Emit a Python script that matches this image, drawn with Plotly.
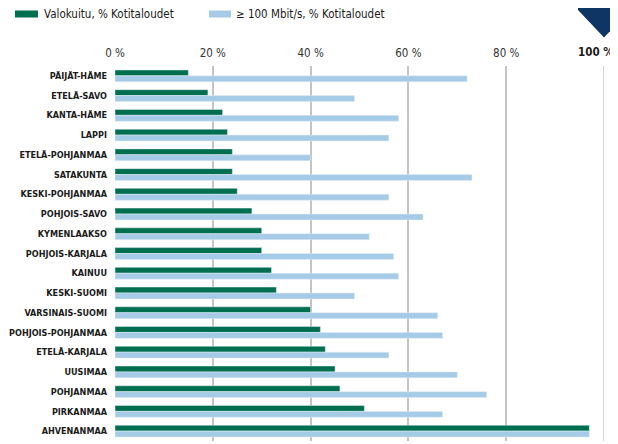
import plotly.graph_objects as go

regions = ["PÄIJÄT-HÄME", "ETELÄ-SAVO", "KANTA-HÄME", "LAPPI", "ETELÄ-POHJANMAA",
           "SATAKUNTA", "KESKI-POHJANMAA", "POHJOIS-SAVO", "KYMENLAAKSO",
           "POHJOIS-KARJALA", "KAINUU", "KESKI-SUOMI", "VARSINAIS-SUOMI",
           "POHJOIS-POHJANMAA", "ETELÄ-KARJALA", "UUSIMAA", "POHJANMAA",
           "PIRKANMAA", "AHVENANMAA"]
valokuitu = [15, 19, 22, 23, 24, 24, 25, 28, 30, 30, 32, 33, 40, 42, 43, 45, 46, 51, 97]
mbit100 = [72, 49, 58, 56, 40, 73, 56, 63, 52, 57, 58, 49, 66, 67, 56, 70, 76, 67, 97]
tick_vals = [0, 20, 40, 60, 80, 100]
tick_text = ["0 %", "20 %", "40 %", "60 %", "80 %", "100 %"]
legend_names = ["Valokuitu, % Kotitaloudet", "≥ 100 Mbit/s, % Kotitaloudet"]

GREEN = "#006f4f"
LIGHT = "#a6cbe7"
NAVY = "#0e3563"
FONT = "DejaVu Sans Condensed, Roboto, sans-serif"

# page body has an 8px default margin, so the figure is offset by 8px
OFF = 8
W, H = 618 - OFF, 444 - OFF
ML, MR, MT, MB = 115 - OFF, 14, 66 - OFF, 3
PW, PH = W - ML - MR, H - MT - MB


def px(x):
    return (x - OFF - ML) / PW


def py(y):
    return (H - MB - (y - OFF)) / PH


fig = go.Figure()
fig.add_trace(go.Bar(y=regions, x=valokuitu, orientation="h", marker_color=GREEN,
                     name=legend_names[0], showlegend=False))
fig.add_trace(go.Bar(y=regions, x=mbit100, orientation="h", marker_color=LIGHT,
                     name=legend_names[1], showlegend=False))

shapes = [
    dict(type="rect", xref="paper", yref="paper", x0=px(15), x1=px(38), y0=py(17.5), y1=py(10.5),
         fillcolor=GREEN, line_width=0),
    dict(type="rect", xref="paper", yref="paper", x0=px(209), x1=px(231), y0=py(17.5), y1=py(10.5),
         fillcolor=LIGHT, line_width=0),
    dict(type="path", xref="paper", yref="paper",
         path=f"M {px(578)} {py(0)} L {px(578)} {py(10)} L {px(604)} {py(37.5)} "
              f"L {px(630)} {py(10)} L {px(630)} {py(0)} Z",
         fillcolor=NAVY, line_width=0),
]
annotations = [
    dict(text=legend_names[0], xref="paper", yref="paper", x=px(42), y=py(14), xanchor="left",
         yanchor="middle", showarrow=False, font=dict(family=FONT, size=11.5, color="#1a1a1a")),
    dict(text=legend_names[1], xref="paper", yref="paper", x=px(234), y=py(14), xanchor="left",
         yanchor="middle", showarrow=False, font=dict(family=FONT, size=11.5, color="#1a1a1a")),
    # the last tick label, bold and kept inside the right edge
    dict(text=f"<b>{tick_text[-1]}</b>", xref="paper", yref="paper", x=px(616), y=py(52),
         xanchor="right", yanchor="middle", showarrow=False,
         font=dict(family=FONT, size=11.5, color="#1a1a1a")),
]

fig.update_layout(
    width=W, height=H,
    margin=dict(l=ML, r=MR, t=MT, b=MB, pad=0, autoexpand=False),
    paper_bgcolor="white", plot_bgcolor="white",
    barmode="group", bargap=0.4, bargroupgap=0,
    shapes=shapes, annotations=annotations,
    xaxis=dict(range=[0, 100], side="top", tickvals=tick_vals[:-1], ticktext=tick_text[:-1],
               showgrid=True, gridcolor="#c4c4c4", gridwidth=1.5, zeroline=False,
               showline=False, ticks="", ticklabelstandoff=6, automargin=False,
               tickfont=dict(family=FONT, size=11.5, color="#333333")),
    yaxis=dict(autorange="reversed", showgrid=False, zeroline=False, showline=False,
               ticks="", ticklabelstandoff=7, automargin=False,
               tickfont=dict(family=FONT, size=9, color="#1a1a1a", weight="bold")),
)
# gridline at 100 % (its label is drawn as an annotation above)
fig.add_vline(x=tick_vals[-1], line_color="#c4c4c4", line_width=1.5, layer="below")
fig.write_html("out.html")
